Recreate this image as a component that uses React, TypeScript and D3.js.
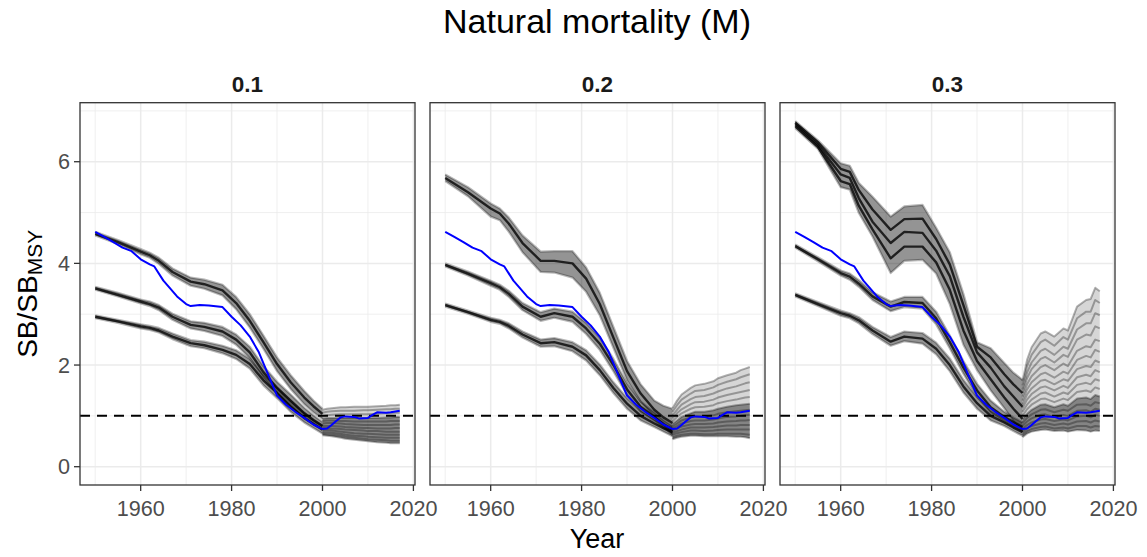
import React from 'react';
import * as d3 from 'd3';

const W = 1147;
const H = 557;
const FONT = '"Liberation Sans", Arial, Helvetica, sans-serif';

// ---------- data ----------
const PANEL_LABELS = ['0.1', '0.2', '0.3'];
const X_TICKS = [1960, 1980, 2000, 2020];
const X_MINOR = [1950, 1970, 1990, 2010];
const Y_TICKS = [0, 2, 4, 6];
const Y_MINOR = [1, 3, 5, 7];
const REF_LEVEL = 1;

// years for the historical bundles (1950-2000)
const YEARS = [1950, 1955, 1960, 1962, 1964, 1967, 1971, 1974, 1978, 1981, 1984, 1987, 1990, 1993, 1996, 1998, 2000];
// years for the recent fan (2000-2017)
const FAN_YEARS = [2000, 2001, 2002, 2004, 2005, 2007, 2009, 2010, 2012, 2014, 2015, 2016, 2017];

// reference run (blue), same in all panels
const BLUE_YEARS = [1950, 1952, 1954, 1956, 1958, 1960, 1962, 1963, 1965, 1968, 1970, 1971, 1973, 1975, 1978, 1980, 1982, 1984, 1986, 1988, 1990, 1992, 1994, 1996, 1998, 2000, 2001, 2002, 2003, 2004, 2005, 2007, 2008, 2010, 2011, 2012, 2014, 2015, 2017];
const BLUE = [4.62, 4.52, 4.42, 4.31, 4.24, 4.08, 3.98, 3.94, 3.66, 3.35, 3.20, 3.16, 3.18, 3.17, 3.14, 2.95, 2.78, 2.56, 2.25, 1.82, 1.40, 1.22, 1.08, 0.96, 0.83, 0.74, 0.75, 0.82, 0.90, 0.97, 0.99, 0.98, 0.95, 0.96, 1.02, 1.07, 1.06, 1.07, 1.10];

// ---- M = 0.1 ----
const P1_TOP_HI = [4.62, 4.46, 4.28, 4.21, 4.11, 3.90, 3.72, 3.68, 3.58, 3.34, 3.00, 2.58, 2.15, 1.80, 1.49, 1.30, 1.14];
const P1_TOP_MID = [4.58, 4.42, 4.23, 4.16, 4.05, 3.83, 3.64, 3.59, 3.47, 3.22, 2.87, 2.45, 2.02, 1.66, 1.36, 1.19, 1.04];
const P1_TOP_LO = [4.55, 4.38, 4.18, 4.11, 3.99, 3.76, 3.56, 3.50, 3.37, 3.10, 2.74, 2.32, 1.88, 1.53, 1.23, 1.07, 0.94];
const P1_MID_HI = [3.54, 3.42, 3.29, 3.25, 3.18, 3.01, 2.86, 2.83, 2.75, 2.60, 2.36, 1.98, 1.67, 1.42, 1.16, 1.01, 0.88];
const P1_MID_MID = [3.51, 3.38, 3.25, 3.20, 3.13, 2.95, 2.79, 2.75, 2.66, 2.50, 2.25, 1.86, 1.55, 1.30, 1.05, 0.92, 0.80];
const P1_MID_LO = [3.48, 3.35, 3.21, 3.16, 3.08, 2.89, 2.72, 2.67, 2.57, 2.40, 2.14, 1.75, 1.44, 1.19, 0.95, 0.84, 0.72];
const P1_LOW_HI = [2.98, 2.89, 2.80, 2.77, 2.73, 2.62, 2.49, 2.46, 2.38, 2.29, 2.12, 1.81, 1.56, 1.29, 1.06, 0.92, 0.81];
const P1_LOW_MID = [2.95, 2.86, 2.76, 2.73, 2.68, 2.56, 2.43, 2.39, 2.30, 2.20, 2.02, 1.70, 1.45, 1.18, 0.96, 0.84, 0.73];
const P1_LOW_LO = [2.92, 2.83, 2.72, 2.69, 2.64, 2.51, 2.37, 2.33, 2.23, 2.12, 1.93, 1.60, 1.35, 1.08, 0.87, 0.76, 0.65];
const P1_FAN = [
  [1.12, 1.14, 1.15, 1.17, 1.17, 1.18, 1.18, 1.18, 1.19, 1.20, 1.21, 1.21, 1.22],
  [1.06, 1.08, 1.09, 1.10, 1.10, 1.10, 1.11, 1.11, 1.12, 1.13, 1.13, 1.14, 1.14],
  [1.00, 1.01, 1.02, 1.03, 1.03, 1.03, 1.03, 1.03, 1.04, 1.05, 1.05, 1.06, 1.06],
  [0.95, 0.96, 0.96, 0.96, 0.96, 0.96, 0.96, 0.96, 0.96, 0.97, 0.97, 0.98, 0.98],
  [0.90, 0.91, 0.91, 0.90, 0.90, 0.89, 0.89, 0.89, 0.89, 0.89, 0.90, 0.90, 0.90],
  [0.85, 0.86, 0.86, 0.85, 0.84, 0.83, 0.82, 0.82, 0.82, 0.82, 0.82, 0.83, 0.83],
  [0.80, 0.80, 0.80, 0.79, 0.78, 0.77, 0.76, 0.76, 0.75, 0.75, 0.75, 0.76, 0.76],
  [0.76, 0.76, 0.75, 0.74, 0.73, 0.72, 0.71, 0.70, 0.70, 0.69, 0.69, 0.69, 0.69],
  [0.72, 0.72, 0.71, 0.69, 0.68, 0.66, 0.65, 0.65, 0.64, 0.63, 0.63, 0.63, 0.63],
  [0.68, 0.68, 0.67, 0.65, 0.63, 0.61, 0.60, 0.59, 0.58, 0.57, 0.57, 0.57, 0.57],
  [0.65, 0.64, 0.63, 0.61, 0.59, 0.57, 0.55, 0.54, 0.53, 0.52, 0.51, 0.51, 0.51],
  [0.62, 0.61, 0.60, 0.57, 0.55, 0.53, 0.51, 0.50, 0.48, 0.47, 0.46, 0.46, 0.46],
];

// ---- M = 0.2 ----
const P2_TOP_HI = [5.75, 5.50, 5.18, 5.08, 4.90, 4.55, 4.23, 4.24, 4.24, 3.92, 3.42, 2.75, 2.08, 1.62, 1.30, 1.20, 1.14];
const P2_TOP_MID = [5.68, 5.40, 5.08, 4.98, 4.78, 4.40, 4.05, 4.05, 4.00, 3.70, 3.20, 2.54, 1.88, 1.44, 1.12, 0.97, 0.86];
const P2_TOP_LO = [5.62, 5.32, 4.92, 4.85, 4.62, 4.22, 3.83, 3.82, 3.72, 3.44, 2.98, 2.34, 1.70, 1.28, 0.98, 0.80, 0.62];
const P2_MID_HI = [4.00, 3.84, 3.66, 3.58, 3.46, 3.22, 3.04, 3.11, 3.05, 2.83, 2.54, 2.12, 1.64, 1.28, 1.07, 0.92, 0.80];
const P2_MID_MID = [3.97, 3.80, 3.61, 3.53, 3.40, 3.15, 2.95, 3.02, 2.95, 2.72, 2.42, 2.00, 1.52, 1.18, 0.98, 0.84, 0.72];
const P2_MID_LO = [3.94, 3.76, 3.56, 3.48, 3.34, 3.08, 2.87, 2.93, 2.85, 2.61, 2.30, 1.88, 1.41, 1.08, 0.90, 0.76, 0.65];
const P2_LOW_HI = [3.21, 3.07, 2.93, 2.89, 2.82, 2.66, 2.50, 2.53, 2.45, 2.29, 2.01, 1.66, 1.35, 1.10, 0.93, 0.83, 0.76];
const P2_LOW_MID = [3.18, 3.04, 2.89, 2.85, 2.77, 2.60, 2.43, 2.45, 2.36, 2.19, 1.90, 1.55, 1.24, 1.00, 0.85, 0.76, 0.68];
const P2_LOW_LO = [3.15, 3.01, 2.85, 2.81, 2.72, 2.54, 2.36, 2.37, 2.27, 2.09, 1.80, 1.45, 1.14, 0.91, 0.78, 0.69, 0.60];
const P2_FAN = [
  [1.15, 1.30, 1.42, 1.55, 1.60, 1.63, 1.68, 1.74, 1.80, 1.85, 1.90, 1.93, 1.96],
  [1.08, 1.21, 1.32, 1.44, 1.49, 1.51, 1.56, 1.61, 1.67, 1.72, 1.76, 1.79, 1.82],
  [1.01, 1.12, 1.22, 1.33, 1.37, 1.39, 1.44, 1.48, 1.54, 1.58, 1.61, 1.64, 1.66],
  [0.95, 1.05, 1.13, 1.23, 1.27, 1.28, 1.32, 1.36, 1.41, 1.45, 1.47, 1.49, 1.51],
  [0.89, 0.98, 1.05, 1.14, 1.17, 1.18, 1.21, 1.25, 1.29, 1.32, 1.34, 1.36, 1.37],
  [0.84, 0.91, 0.98, 1.05, 1.08, 1.08, 1.11, 1.14, 1.18, 1.21, 1.22, 1.23, 1.24],
  [0.79, 0.85, 0.91, 0.97, 0.99, 0.99, 1.01, 1.04, 1.07, 1.09, 1.10, 1.11, 1.12],
  [0.75, 0.80, 0.85, 0.90, 0.91, 0.91, 0.93, 0.95, 0.98, 0.99, 1.00, 1.01, 1.02],
  [0.71, 0.75, 0.79, 0.83, 0.84, 0.84, 0.85, 0.87, 0.89, 0.90, 0.91, 0.91, 0.92],
  [0.67, 0.70, 0.73, 0.77, 0.77, 0.77, 0.78, 0.79, 0.81, 0.81, 0.82, 0.82, 0.82],
  [0.63, 0.66, 0.68, 0.71, 0.71, 0.70, 0.71, 0.72, 0.73, 0.73, 0.73, 0.73, 0.73],
  [0.58, 0.61, 0.63, 0.65, 0.65, 0.64, 0.64, 0.65, 0.65, 0.65, 0.65, 0.64, 0.63],
  [0.54, 0.57, 0.59, 0.61, 0.61, 0.60, 0.60, 0.60, 0.60, 0.59, 0.59, 0.58, 0.56],
];

// ---- M = 0.3 ----
const P3_TOP_HI = [6.80, 6.42, 5.97, 5.92, 5.58, 5.31, 4.92, 5.12, 5.15, 4.70, 4.22, 3.40, 2.45, 2.33, 2.04, 1.85, 1.71];
const P3_TOP_Q1 = [6.77, 6.38, 5.86, 5.80, 5.44, 5.06, 4.66, 4.87, 4.88, 4.48, 3.98, 3.18, 2.36, 2.15, 1.82, 1.62, 1.45];
const P3_TOP_MID = [6.74, 6.33, 5.75, 5.68, 5.28, 4.82, 4.40, 4.62, 4.60, 4.25, 3.75, 2.95, 2.25, 1.95, 1.58, 1.38, 1.18];
const P3_TOP_Q3 = [6.70, 6.29, 5.62, 5.56, 5.13, 4.67, 4.10, 4.33, 4.33, 4.02, 3.48, 2.68, 2.08, 1.72, 1.36, 1.14, 0.94];
const P3_TOP_LO = [6.66, 6.25, 5.50, 5.45, 4.99, 4.53, 3.81, 4.05, 4.07, 3.80, 3.20, 2.40, 1.90, 1.50, 1.15, 0.90, 0.70];
const P3_MID_HI = [4.37, 4.12, 3.86, 3.80, 3.67, 3.43, 3.25, 3.34, 3.34, 3.05, 2.58, 2.08, 1.63, 1.30, 1.08, 0.97, 0.87];
const P3_MID_MID = [4.34, 4.08, 3.81, 3.74, 3.60, 3.35, 3.15, 3.24, 3.22, 2.92, 2.45, 1.95, 1.50, 1.17, 0.98, 0.88, 0.78];
const P3_MID_LO = [4.31, 4.04, 3.76, 3.68, 3.54, 3.28, 3.06, 3.14, 3.11, 2.80, 2.33, 1.83, 1.38, 1.06, 0.89, 0.79, 0.69];
const P3_LOW_HI = [3.41, 3.24, 3.07, 3.02, 2.94, 2.75, 2.55, 2.66, 2.63, 2.44, 2.13, 1.71, 1.37, 1.10, 0.95, 0.85, 0.76];
const P3_LOW_MID = [3.38, 3.20, 3.02, 2.97, 2.88, 2.68, 2.46, 2.56, 2.52, 2.32, 2.00, 1.58, 1.25, 1.00, 0.87, 0.77, 0.68];
const P3_LOW_LO = [3.35, 3.16, 2.97, 2.92, 2.82, 2.61, 2.38, 2.47, 2.42, 2.21, 1.88, 1.46, 1.14, 0.91, 0.80, 0.70, 0.61];
const P3_FAN = [
  [1.68, 2.10, 2.35, 2.62, 2.66, 2.56, 2.72, 2.68, 3.15, 3.28, 3.30, 3.52, 3.45],
  [1.60, 1.98, 2.20, 2.45, 2.50, 2.38, 2.55, 2.50, 2.92, 3.05, 3.05, 3.28, 3.22],
  [1.52, 1.85, 2.05, 2.28, 2.32, 2.20, 2.36, 2.32, 2.70, 2.82, 2.82, 3.02, 2.98],
  [1.45, 1.74, 1.92, 2.12, 2.16, 2.05, 2.20, 2.16, 2.50, 2.60, 2.58, 2.76, 2.72],
  [1.38, 1.62, 1.78, 1.96, 2.00, 1.90, 2.03, 1.98, 2.28, 2.37, 2.35, 2.50, 2.47],
  [1.30, 1.52, 1.66, 1.82, 1.85, 1.75, 1.87, 1.83, 2.10, 2.18, 2.15, 2.30, 2.26],
  [1.22, 1.42, 1.54, 1.69, 1.71, 1.62, 1.72, 1.69, 1.92, 1.98, 1.96, 2.09, 2.05],
  [1.15, 1.32, 1.43, 1.56, 1.58, 1.50, 1.59, 1.55, 1.76, 1.81, 1.78, 1.90, 1.86],
  [1.08, 1.22, 1.32, 1.44, 1.46, 1.38, 1.46, 1.43, 1.61, 1.65, 1.62, 1.72, 1.69],
  [1.00, 1.13, 1.22, 1.33, 1.34, 1.27, 1.34, 1.31, 1.47, 1.50, 1.47, 1.56, 1.53],
  [0.93, 1.04, 1.12, 1.22, 1.23, 1.17, 1.23, 1.20, 1.34, 1.36, 1.33, 1.41, 1.38],
  [0.86, 0.96, 1.03, 1.12, 1.13, 1.07, 1.12, 1.10, 1.22, 1.23, 1.20, 1.27, 1.25],
  [0.80, 0.89, 0.95, 1.02, 1.03, 0.98, 1.02, 1.00, 1.10, 1.11, 1.08, 1.14, 1.12],
  [0.74, 0.82, 0.87, 0.93, 0.94, 0.90, 0.93, 0.91, 0.99, 1.00, 0.97, 1.02, 1.00],
  [0.68, 0.76, 0.80, 0.85, 0.86, 0.82, 0.85, 0.83, 0.89, 0.90, 0.87, 0.91, 0.89],
  [0.63, 0.70, 0.74, 0.78, 0.79, 0.75, 0.77, 0.75, 0.80, 0.80, 0.77, 0.80, 0.79],
  [0.58, 0.65, 0.69, 0.72, 0.73, 0.70, 0.71, 0.69, 0.72, 0.71, 0.69, 0.71, 0.70],
];
// index of the fan member where the dense (dark) core of each fan begins
const FAN_CORE_FROM = [3, 5, 10];

type Bundle = { lo: number[]; hi: number[]; inner: number[][] };
type PanelData = { bundles: Bundle[]; fan: number[][]; core: number };

const PANEL_DATA: PanelData[] = [
  {
    bundles: [
      { lo: P1_TOP_LO, hi: P1_TOP_HI, inner: [P1_TOP_MID] },
      { lo: P1_MID_LO, hi: P1_MID_HI, inner: [P1_MID_MID] },
      { lo: P1_LOW_LO, hi: P1_LOW_HI, inner: [P1_LOW_MID] },
    ],
    fan: P1_FAN,
    core: FAN_CORE_FROM[0],
  },
  {
    bundles: [
      { lo: P2_TOP_LO, hi: P2_TOP_HI, inner: [P2_TOP_MID] },
      { lo: P2_MID_LO, hi: P2_MID_HI, inner: [P2_MID_MID] },
      { lo: P2_LOW_LO, hi: P2_LOW_HI, inner: [P2_LOW_MID] },
    ],
    fan: P2_FAN,
    core: FAN_CORE_FROM[1],
  },
  {
    bundles: [
      { lo: P3_TOP_LO, hi: P3_TOP_HI, inner: [P3_TOP_Q1, P3_TOP_MID, P3_TOP_Q3] },
      { lo: P3_MID_LO, hi: P3_MID_HI, inner: [P3_MID_MID] },
      { lo: P3_LOW_LO, hi: P3_LOW_HI, inner: [P3_LOW_MID] },
    ],
    fan: P3_FAN,
    core: FAN_CORE_FROM[2],
  },
];

// ---------- layout ----------
const PANEL_LEFTS = [80, 430, 780];
const PANEL_W = 335;
const PANEL_TOP = 102.7;
const PANEL_BOTTOM = 485;
const X_DOMAIN: [number, number] = [1946.65, 2020.35];
const Y_DOMAIN: [number, number] = [-0.36, 7.161];

const y = d3.scaleLinear().domain(Y_DOMAIN).range([PANEL_BOTTOM, PANEL_TOP]);

function Panel({ idx }: { idx: number }) {
  const left = PANEL_LEFTS[idx];
  const x = d3.scaleLinear().domain(X_DOMAIN).range([left, left + PANEL_W]);
  const data = PANEL_DATA[idx];
  const line = d3
    .line<[number, number]>()
    .x((d) => x(d[0]))
    .y((d) => y(d[1]));
  const area = d3
    .area<[number, number, number]>()
    .x((d) => x(d[0]))
    .y0((d) => y(d[1]))
    .y1((d) => y(d[2]));
  const pairs = (yrs: number[], vals: number[]) => yrs.map((yr, i) => [yr, vals[i]] as [number, number]);
  const band = (yrs: number[], lo: number[], hi: number[]) =>
    area(yrs.map((yr, i) => [yr, lo[i], hi[i]] as [number, number, number])) || '';
  const clipId = `clip${idx}`;
  const fanTop = data.fan[0];
  const fanBottom = data.fan[data.fan.length - 1];
  const fanCore = data.fan[data.core];
  return (
    <g>
      <defs>
        <clipPath id={clipId}>
          <rect x={left} y={PANEL_TOP} width={PANEL_W} height={PANEL_BOTTOM - PANEL_TOP} />
        </clipPath>
      </defs>
      <rect x={left} y={PANEL_TOP} width={PANEL_W} height={PANEL_BOTTOM - PANEL_TOP} fill="#ffffff" />
      {/* grid */}
      {Y_MINOR.map((v) => (
        <line key={'ym' + v} x1={left} x2={left + PANEL_W} y1={y(v)} y2={y(v)} stroke="#ebebeb" strokeWidth={0.8} />
      ))}
      {X_MINOR.map((v) => (
        <line key={'xm' + v} x1={x(v)} x2={x(v)} y1={PANEL_TOP} y2={PANEL_BOTTOM} stroke="#ebebeb" strokeWidth={0.8} />
      ))}
      {Y_TICKS.map((v) => (
        <line key={'yg' + v} x1={left} x2={left + PANEL_W} y1={y(v)} y2={y(v)} stroke="#ebebeb" strokeWidth={1.5} />
      ))}
      {X_TICKS.map((v) => (
        <line key={'xg' + v} x1={x(v)} x2={x(v)} y1={PANEL_TOP} y2={PANEL_BOTTOM} stroke="#ebebeb" strokeWidth={1.5} />
      ))}
      <g clipPath={`url(#${clipId})`}>
        {/* recent fan */}
        <path d={band(FAN_YEARS, fanBottom, fanTop)} fill="#000000" fillOpacity={0.16} />
        <path d={band(FAN_YEARS, fanBottom, fanCore)} fill="#000000" fillOpacity={0.38} />
        {data.fan.map((f, fi) => (
          <path
            key={'f' + fi}
            d={line(pairs(FAN_YEARS, f)) || ''}
            fill="none"
            stroke="#000000"
            strokeOpacity={0.3}
            strokeWidth={2}
            strokeLinejoin="round"
          />
        ))}
        {/* historical bundles */}
        {data.bundles.map((b, bi) => (
          <g key={'b' + bi}>
            <path d={band(YEARS, b.lo, b.hi)} fill="#000000" fillOpacity={0.42} stroke="none" />
            {[b.hi, b.lo].map((m, mi) => (
              <path
                key={'e' + mi}
                d={line(pairs(YEARS, m)) || ''}
                fill="none"
                stroke="#000000"
                strokeOpacity={0.28}
                strokeWidth={2.2}
                strokeLinejoin="round"
              />
            ))}
            {b.inner.map((m, mi) => (
              <path
                key={'i' + mi}
                d={line(pairs(YEARS, m)) || ''}
                fill="none"
                stroke="#000000"
                strokeOpacity={0.78}
                strokeWidth={2.4}
                strokeLinejoin="round"
              />
            ))}
          </g>
        ))}
        <line
          x1={left}
          x2={left + PANEL_W}
          y1={y(REF_LEVEL)}
          y2={y(REF_LEVEL)}
          stroke="#000000"
          strokeWidth={2}
          strokeDasharray="10,7"
        />
        <path
          d={line(pairs(BLUE_YEARS, BLUE)) || ''}
          fill="none"
          stroke="#0000ff"
          strokeWidth={2}
          strokeLinejoin="round"
        />
      </g>
      <rect
        x={left}
        y={PANEL_TOP}
        width={PANEL_W}
        height={PANEL_BOTTOM - PANEL_TOP}
        fill="none"
        stroke="#333333"
        strokeWidth={1.3}
      />
      {/* strip */}
      <text
        x={left + PANEL_W / 2}
        y={92}
        textAnchor="middle"
        fontFamily={FONT}
        fontWeight="bold"
        fontSize={22.5}
        fill="#1a1a1a"
      >
        {PANEL_LABELS[idx]}
      </text>
      {/* x axis */}
      {X_TICKS.map((v) => (
        <g key={'xt' + v}>
          <line x1={x(v)} x2={x(v)} y1={PANEL_BOTTOM} y2={PANEL_BOTTOM + 6} stroke="#333333" strokeWidth={1.3} />
          <text x={x(v)} y={516} textAnchor="middle" fontFamily={FONT} fontSize={21.6} fill="#4d4d4d">
            {v}
          </text>
        </g>
      ))}
      {/* y axis only on first panel */}
      {idx === 0 &&
        Y_TICKS.map((v) => (
          <g key={'yt' + v}>
            <line x1={left - 6} x2={left} y1={y(v)} y2={y(v)} stroke="#333333" strokeWidth={1.3} />
            <text
              x={left - 10}
              y={y(v)}
              dy="0.36em"
              textAnchor="end"
              fontFamily={FONT}
              fontSize={21.6}
              fill="#4d4d4d"
            >
              {v}
            </text>
          </g>
        ))}
    </g>
  );
}

export default function App() {
  const midY = (PANEL_TOP + PANEL_BOTTOM) / 2;
  return (
    <svg
      width={W}
      height={H}
      viewBox={`0 0 ${W} ${H}`}
      style={{ position: 'fixed', left: 0, top: 0, background: '#ffffff' }}
    >
      <rect x={0} y={0} width={W} height={H} fill="#ffffff" />
      <text x={597} y={33} textAnchor="middle" fontFamily={FONT} fontSize={34} fill="#000000">
        Natural mortality (M)
      </text>
      {PANEL_LABELS.map((_, i) => (
        <Panel key={i} idx={i} />
      ))}
      <text x={597} y={548} textAnchor="middle" fontFamily={FONT} fontSize={27} fill="#000000">
        Year
      </text>
      <text
        transform={`translate(37, ${midY}) rotate(-90)`}
        textAnchor="middle"
        fontFamily={FONT}
        fontSize={28}
        fill="#000000"
      >
        <tspan>SB/SB</tspan>
        <tspan fontSize={21} dy={5}>MSY</tspan>
      </text>
    </svg>
  );
}
